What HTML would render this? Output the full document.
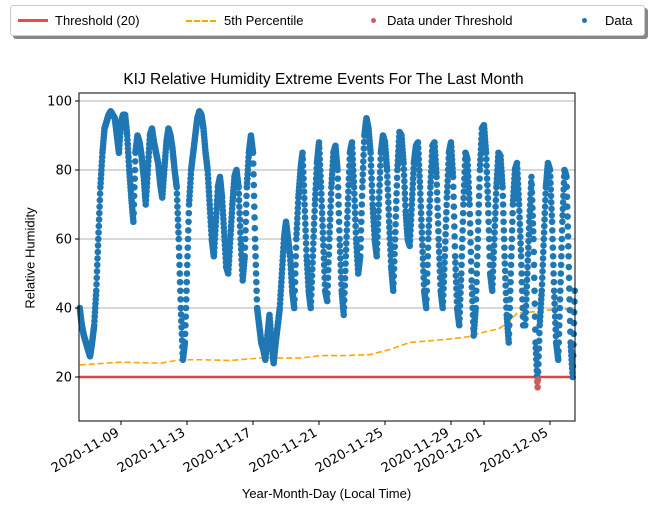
<!DOCTYPE html>
<html><head><meta charset="utf-8"><style>
body{margin:0;background:#fff;font-family:"Liberation Sans","DejaVu Sans",sans-serif}
svg text{font-family:"DejaVu Sans","Liberation Sans",sans-serif}
</style></head><body>
<svg id="c" width="653" height="512" xmlns="http://www.w3.org/2000/svg"></svg>
<script>
// 3-hourly humidity, each row = one day starting at noon (Nov 6 12:00 onwards)
const startDay = 6.5;
const humidity = [
 40,35,32,30,28,26,30,35,
 45,60,75,85,92,94,96,97,
 96,95,90,85,94,96,96,90,
 80,72,65,85,90,88,84,78,
 70,80,90,92,88,85,82,76,
 72,80,88,92,90,86,80,75,
 60,40,25,30,50,70,80,85,
 90,95,97,96,92,85,80,70,
 60,55,65,75,78,72,62,52,
 50,60,70,78,80,75,60,48,
 55,75,85,90,85,60,40,35,
 30,28,25,32,38,30,24,30,
 35,40,50,60,65,60,55,45,
 40,60,72,80,85,70,55,45,
 40,55,70,82,88,75,60,45,
 42,60,75,85,87,80,60,45,
 38,55,70,85,88,75,60,50,
 55,75,90,95,92,85,70,60,
 55,70,85,90,88,80,65,52,
 45,62,80,91,90,82,68,60,
 58,70,82,87,88,75,60,45,
 40,60,75,87,88,78,60,45,
 40,55,72,85,88,78,55,40,
 35,50,70,85,83,70,48,32,
 40,60,80,92,93,85,70,50,
 45,60,75,85,84,75,55,38,
 30,50,70,80,82,70,55,35,
 35,50,65,78,60,30,17,35,
 45,60,75,82,80,65,45,30,
 25,45,65,80,78,55,30,20,
 45];
const pctDays = [6.5,9,11.4,12.6,13.8,15.6,17.5,19.9,21.1,22.6,24.1,25.3,26.5,27.7,28.9,30.1,31.0,31.9,32.5,33.0,34.3,35.5,36.5];
const pctVals = [23.5,24.3,24.0,25,25,24.8,25.5,25.5,26.2,26.2,26.5,28,30,30.5,31,31.7,33,34,36,38.5,39,39.8,39.5];
const threshold = 20;
const yTicks = [20,40,60,80,100];
const xTickDays = [9,13,17,21,25,29,31,35];
const xTickLabels = ["2020-11-09","2020-11-13","2020-11-17","2020-11-21","2020-11-25","2020-11-29","2020-12-01","2020-12-05"];

const L=79,R=575,T=93,B=421;
const X=d=>121+(d-9)*16.5;
const Y=v=>377-(v-20)*3.45;
const svg=document.getElementById('c');
const NS='http://www.w3.org/2000/svg';
function mk(tag,attrs,parent){const e=document.createElementNS(NS,tag);for(const k in attrs)e.setAttribute(k,attrs[k]);(parent||svg).appendChild(e);return e;}

yTicks.forEach(v=>{
 const g=mk('line',{x1:L,x2:R,y1:Y(v),y2:Y(v),stroke:'#b0b0b0','stroke-width':1});
 
 
});
const th=mk('line',{x1:L,x2:R,y1:Y(threshold),y2:Y(threshold),stroke:'#e84040','stroke-width':2.5});


const pl=mk('polyline',{points:pctDays.map((d,i)=>X(d)+','+Y(pctVals[i])).join(' '),fill:'none',stroke:'#ffa500','stroke-width':1.6,'stroke-dasharray':'6,3'});


const dg=mk('g',{});


const SUB=8;
for(let i=0;i<humidity.length;i++){
 const steps=(i<humidity.length-1)?SUB:1;
 for(let s=0;s<steps;s++){
  const v=i<humidity.length-1?humidity[i]+(humidity[i+1]-humidity[i])*s/SUB:humidity[i];
  const d=startDay+(i+s/SUB)/8;
  const x=X(d);if(x<L||x>R)continue;
  const c=mk('circle',{cx:x,cy:Y(v),r:3.3,fill:v<threshold?'#cd5c5c':'#1f77b4'},dg);
  
  
 }
}
const fr=mk('rect',{x:L,y:T,width:R-L,height:B-T,fill:'none',stroke:'#000','stroke-width':1});


yTicks.forEach(v=>{
 mk('line',{x1:L-4,x2:L,y1:Y(v),y2:Y(v),stroke:'#000'});
 const t=mk('text',{x:L-7,y:Y(v)+4.5,'text-anchor':'end','font-size':13});
 t.textContent=v;
 
 
});
xTickDays.forEach((d,i)=>{
 const x=X(d);
 mk('line',{x1:x,x2:x,y1:B,y2:B+4,stroke:'#000'});
 const tx=x-1, ty=B+14;
 const t=mk('text',{x:tx,y:ty,'text-anchor':'end','font-size':13,transform:`rotate(-30 ${tx} ${ty})`});
 t.textContent=xTickLabels[i];
 
 
});
</script>
<div style="position:absolute;left:10px;top:5px;width:633px;height:29px;border:1px solid #ccc;border-radius:3px;background:#fff;box-shadow:3px 3px 0 #888;font-size:13px;">
 <div style="position:absolute;left:7px;top:13px;width:30px;height:3px;background:#f04848"></div>
 <span style="position:absolute;left:44px;top:7px">Threshold (20)</span>
 <div style="position:absolute;left:175px;top:14px;width:30px;border-top:2px dashed #ffa500"></div>
 <span style="position:absolute;left:213px;top:7px">5th Percentile</span>
 <div style="position:absolute;left:360px;top:12px;width:5px;height:5px;border-radius:50%;background:#cd5c5c"></div>
 <span style="position:absolute;left:376px;top:7px">Data under Threshold</span>
 <div style="position:absolute;left:571px;top:12px;width:5px;height:5px;border-radius:50%;background:#1f77b4"></div>
 <span style="position:absolute;left:594px;top:7px">Data</span>
</div>
<div style="position:absolute;left:0;width:653px;top:71px;text-align:center;font-size:15.5px"><span style="position:relative;left:-3px">KIJ Relative Humidity Extreme Events For The Last Month</span></div>
<div style="position:absolute;left:30px;top:258px;font-size:13px;transform:translate(-50%,-50%) rotate(-90deg);white-space:nowrap">Relative Humidity</div>
<div style="position:absolute;left:0;width:653px;top:486px;text-align:center;font-size:13px">Year-Month-Day (Local Time)</div>
</body></html>
